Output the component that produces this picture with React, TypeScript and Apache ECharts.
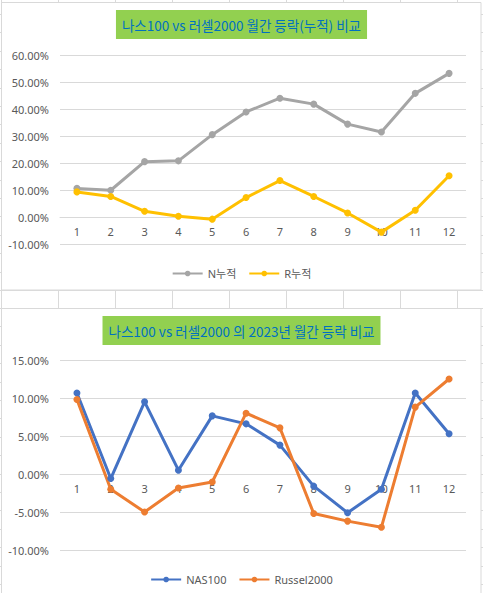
import * as echarts from "echarts";
import { useEffect, useRef } from "react";

const months = ["1", "2", "3", "4", "5", "6", "7", "8", "9", "10", "11", "12"];

// 누적 등락 (%)
const nCum = [10.6, 9.9, 20.5, 20.8, 30.5, 38.9, 44.0, 41.8, 34.4, 31.5, 45.8, 53.2];
const rCum = [9.3, 7.6, 2.1, 0.3, -0.8, 7.2, 13.5, 7.6, 1.5, -5.6, 2.5, 15.3];

// 2023년 월간 등락 (%)
const nas100 = [10.65, -0.6, 9.5, 0.5, 7.65, 6.6, 3.8, -1.6, -5.1, -2.0, 10.65, 5.3];
const russel2000 = [9.8, -2.0, -5.0, -1.85, -1.05, 8.0, 6.07, -5.2, -6.2, -7.0, 8.8, 12.5];

const W = 483;
const H = 593;
const FONT = "'Noto Sans', 'Noto Sans CJK KR', sans-serif";
const KFONT = "'Noto Sans CJK KR', 'Noto Sans', sans-serif";
const LABEL = "#595959";
const SHEET = "#dadada";
const GRIDLINE = "#d9d9d9";

function sheetLines() {
    const out: any[] = [];
    for (let x = 1; x < W; x += 57) {
        out.push({
            type: "line",
            z: -20,
            shape: { x1: x + 0.5, y1: 0, x2: x + 0.5, y2: H },
            style: { stroke: SHEET, lineWidth: 1 }
        });
    }
    for (let y = 290; y > 0; y -= 18.4) {
        out.push({
            type: "line",
            z: -20,
            shape: { x1: 0, y1: Math.round(y) + 0.5, x2: W, y2: Math.round(y) + 0.5 },
            style: { stroke: SHEET, lineWidth: 1 }
        });
    }
    for (let y = 308; y < H; y += 18.4) {
        out.push({
            type: "line",
            z: -20,
            shape: { x1: 0, y1: Math.round(y) + 0.5, x2: W, y2: Math.round(y) + 0.5 },
            style: { stroke: SHEET, lineWidth: 1 }
        });
    }
    // chart frames
    out.push({
        type: "rect",
        z: -10,
        shape: { x: 1.5, y: 2.5, width: 479.5, height: 287.5 },
        style: { fill: "#fff", stroke: GRIDLINE, lineWidth: 1 }
    });
    out.push({
        type: "rect",
        z: -10,
        shape: { x: 1.5, y: 308.5, width: 479.5, height: 300 },
        style: { fill: "#fff", stroke: GRIDLINE, lineWidth: 1 }
    });
    return out;
}

function titleOpt(text: string, top: number) {
    return {
        text,
        left: "center",
        top,
        padding: [6, 6, 6, 6],
        backgroundColor: "#92D050",
        textStyle: {
            fontFamily: KFONT,
            fontSize: 13.5,
            fontWeight: "normal" as const,
            color: "#0070C0",
            lineHeight: 17
        }
    };
}

function lineSeries(name: string, data: number[], color: string, idx: number) {
    return {
        name,
        type: "line" as const,
        xAxisIndex: idx,
        yAxisIndex: idx,
        data,
        symbol: "circle",
        symbolSize: 7,
        lineStyle: { color, width: 3 },
        itemStyle: { color },
        emphasis: { disabled: true }
    };
}

function yAxisOpt(idx: number, min: number, max: number, interval: number) {
    return {
        type: "value" as const,
        gridIndex: idx,
        min,
        max,
        interval,
        axisLine: { show: false },
        axisTick: { show: false },
        axisLabel: {
            color: LABEL,
            fontFamily: FONT,
            fontSize: 11,
            margin: 11,
            formatter: (v: number) => v.toFixed(2) + "%"
        },
        splitLine: { lineStyle: { color: GRIDLINE, width: 1 } }
    };
}

// category axis sits on the 0% line: offset moves it up from the grid bottom
function xAxisOpt(idx: number, offset: number) {
    return {
        type: "category" as const,
        gridIndex: idx,
        data: months,
        boundaryGap: true,
        position: "bottom" as const,
        offset,
        axisLine: { show: true, onZero: false, lineStyle: { color: GRIDLINE, width: 1 } },
        axisTick: { show: false },
        axisLabel: {
            color: LABEL,
            fontFamily: FONT,
            fontSize: 11,
            margin: 9
        }
    };
}

function legendOpt(names: string[], top: number) {
    return {
        data: names,
        top,
        left: "center",
        itemWidth: 30,
        itemHeight: 7,
        itemGap: 12,
        textStyle: { color: LABEL, fontFamily: FONT, fontSize: 11 }
    };
}

export default function App() {
    const chartRef = useRef<HTMLDivElement>(null);

    useEffect(() => {
        if (!chartRef.current) return;
        const chart = echarts.init(chartRef.current, null, { renderer: "svg" });

        const option: echarts.EChartsOption = {
            animation: false,
            backgroundColor: "#fff",
            title: [
                titleOpt("나스100 vs 러셀2000 월간 등락(누적) 비교", 10),
                titleOpt("나스100 vs 러셀2000 의 2023년 월간 등락 비교", 316)
            ] as any,
            legend: [
                legendOpt(["N누적", "R누적"], 263),
                legendOpt(["NAS100", "Russel2000"], 569)
            ] as any,
            grid: [
                { left: 60, right: 17, top: 55, height: 189 },
                { left: 60, right: 17, top: 360, height: 190 }
            ],
            xAxis: [xAxisOpt(0, -27), xAxisOpt(1, -76)],
            yAxis: [yAxisOpt(0, -10, 60, 10), yAxisOpt(1, -10, 15, 5)],
            series: [
                lineSeries("N누적", nCum, "#A5A5A5", 0),
                lineSeries("R누적", rCum, "#FFC000", 0),
                lineSeries("NAS100", nas100, "#4472C4", 1),
                lineSeries("Russel2000", russel2000, "#ED7D31", 1)
            ] as any,
            graphic: sheetLines()
        };

        chart.setOption(option);

        return () => {
            chart.dispose();
        };
    }, []);

    return (
        <div
            ref={chartRef}
            style={{ position: "fixed", left: 0, top: 0, width: W, height: H }}
        />
    );
}
